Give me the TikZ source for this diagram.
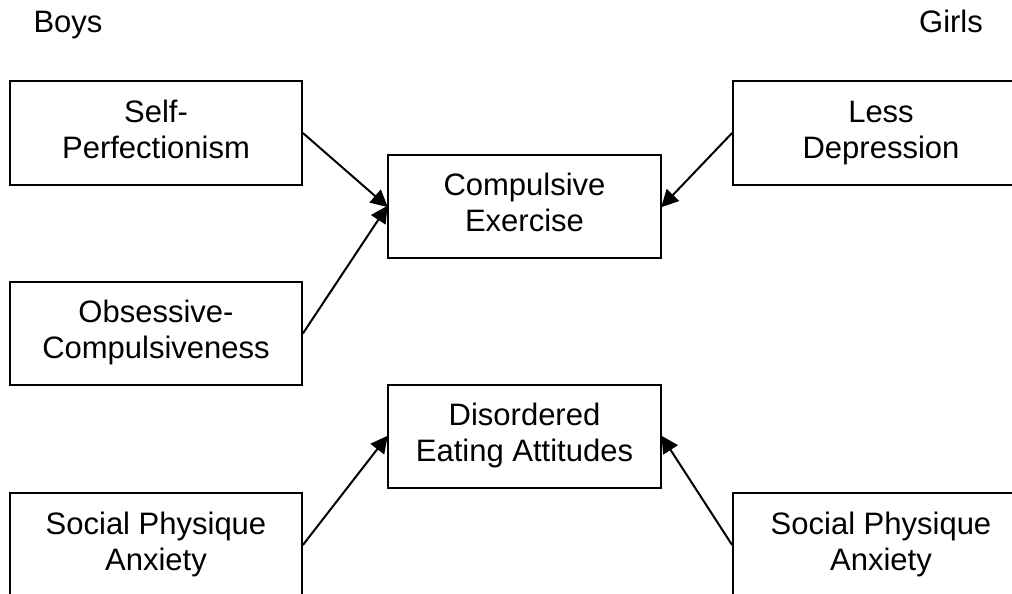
\documentclass[tikz,border=0pt]{standalone}
\usepackage{fontspec}
\setmainfont{Liberation Sans}
\usetikzlibrary{arrows.meta}
% two-line box label with struts, so every label sits at the same height
\newcommand\boxtext[1]{\begin{tabular}{@{}c@{}}#1\end{tabular}}
\begin{document}
\begin{tikzpicture}[x=1pt,y=-1pt,
  txt/.style={font=\fontsize{31}{36}\selectfont},
  factor/.style={txt, draw, line width=1.8pt, inner sep=0pt,
    minimum height=104pt},
  leftbox/.style={factor, minimum width=292pt},
  rightbox/.style={factor, minimum width=296pt},
  midbox/.style={factor, minimum width=273pt, minimum height=103pt},
  link/.style={line width=2pt, -{Triangle[length=17pt,width=17pt]}, shorten >=-1pt}
]
\clip (0,0) rectangle (1012,594);

% group labels
\node[txt, anchor=base] (boys) at (68,33) {Boys};
\node[txt, anchor=base] (girls) at (951,33) {Girls};

% predictors (boys)
\node[leftbox] (selfp) at (156,133) {\boxtext{Self-\\Perfectionism}};
\node[leftbox, minimum height=103pt] (obs) at (156,333.5) {\boxtext{Obsessive-\\Compulsiveness}};
\node[leftbox] (spal) at (156,545) {\boxtext{Social Physique\\Anxiety}};

% predictors (girls)
\node[rightbox] (dep) at (881,133) {\boxtext{Less\\Depression}};
\node[rightbox] (spar) at (881,545) {\boxtext{Social Physique\\Anxiety}};

% outcomes
\node[midbox] (comp) at (524.5,206.5) {\boxtext{Compulsive\\Exercise}};
\node[midbox] (deat) at (524.5,436.5) {\boxtext{Disordered\\Eating Attitudes}};

% paths
\draw[link] (selfp.east) -- (comp.west);
\draw[link] (obs.east) -- (comp.west);
\draw[link] (dep.west) -- (comp.east);
\draw[link] (spal.east) -- (deat.west);
\draw[link] (spar.west) -- (deat.east);
\end{tikzpicture}
\end{document}
